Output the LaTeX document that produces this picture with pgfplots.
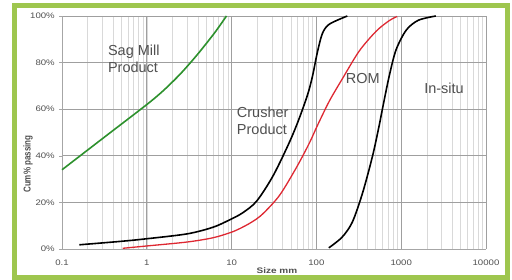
\documentclass[border=0pt]{standalone}
\usepackage{pgfplots}
\pgfplotsset{compat=1.18}
\usepackage{fontspec}
\setmainfont{Liberation Sans}
\definecolor{framegreen}{RGB}{158,198,78}
\definecolor{txtgray}{RGB}{80,80,80}
\definecolor{curvegreen}{RGB}{45,145,45}
\definecolor{curvered}{RGB}{222,40,50}
\begin{document}
\begin{tikzpicture}
\useasboundingbox (0,0) rectangle (512pt,280pt);
\fill[white] (0,0) rectangle (512pt,280pt);
\begin{axis}[
  at={(62pt,31pt)}, anchor=south west,
  scale only axis, width=424pt, height=233pt,
  xmode=log, xmin=0.1, xmax=10000, ymin=0, ymax=100,
  axis x line*=bottom, axis y line*=left,
  axis line style={draw=gray!70, line width=0.6pt},
  xtick={0.1,1,10,100,1000,10000},
  xticklabels={0.1,1,10,100,1000,10000},
  ytick={0,20,40,60,80,100},
  yticklabels={0\%,20\%,40\%,60\%,80\%,100\%},
  minor x tick num=8,
  grid=both,
  major grid style={draw=gray!75, line width=0.6pt},
  minor grid style={draw=gray!30, line width=0.4pt},
  x tick style={draw=none},
  y tick style={draw=gray!70},
  major tick length=3pt,
  tick align=outside,
  /pgf/number format/assume math mode=true,
  tick label style={font=\fontsize{8}{9}\selectfont, text=txtgray, xscale=1.2},
  xticklabel style={yshift=-4pt},
  clip=false,
]
\addplot[curvegreen, line width=1.6pt, smooth] coordinates {
(0.1,34) (0.316,48) (1,62) (1.58,68.1) (2.51,75.3) (3.98,83.6) (6.31,92.8) (8.7,100)};
\addplot[black, line width=1.6pt, smooth] coordinates {
(0.16,1.8) (0.5,3.3) (1,4.4) (3,6.5) (6,9.3) (9.47,12.5) (13.47,15.5) (19.7,20.5) (30.4,31) (45.6,44) (59.7,54) (78.4,66) (89.7,74) (102.8,84.5) (117.7,92.5) (142.2,96.5) (231.6,100)};
\addplot[curvered, line width=1.3pt, smooth] coordinates {
(0.52,0.3) (1,1.3) (3,3) (6,4.8) (9.6,7) (12.4,8.7) (17.2,11.5) (23.2,15) (36.7,23) (58.2,35) (82.7,45.5) (102.8,53) (142.2,63.5) (202,73) (320.6,85) (508,93.5) (722,98) (897,99.8)};
\addplot[black, line width=1.6pt, smooth] coordinates {
(140,0.5) (200,5) (265,11.5) (350,24) (460,40) (550,53) (600,60) (720,74) (870,85.5) (1150,94) (1600,98.2) (2560,100)};
\node[anchor=north west, align=left, inner sep=0pt, text=txtgray, font=\fontsize{14.5}{17}\selectfont] at (axis cs:0.347,87.5) {Sag Mill\\Product};
\node[anchor=north west, align=left, inner sep=0pt, text=txtgray, font=\fontsize{14.5}{17}\selectfont] at (axis cs:11.5,61) {Crusher\\Product};
\node[anchor=north west, inner sep=0pt, text=txtgray, font=\fontsize{14.5}{17}\selectfont] at (axis cs:222,75.5) {ROM};
\node[anchor=north west, inner sep=0pt, text=txtgray, font=\fontsize{14.5}{17}\selectfont] at (axis cs:1860,71.5) {In-situ};
\end{axis}
\node[text=txtgray, font=\bfseries\fontsize{8}{9}\selectfont, xscale=1.25, inner sep=0pt] at (277pt,9pt) {Size mm};
\node[text=txtgray, font=\bfseries\fontsize{8}{9}\selectfont, rotate=90, yscale=1.25, inner sep=0pt] at (28pt,116pt) {Cum\% passing};
\draw[line width=5pt, framegreen] (14.5pt,2.5pt) rectangle (507.5pt,274.5pt);
\end{tikzpicture}
\end{document}
